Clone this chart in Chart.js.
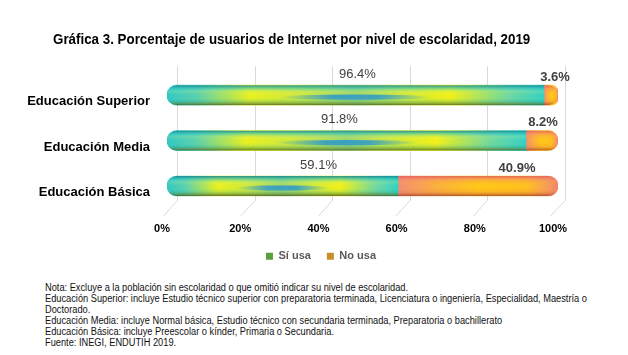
<!DOCTYPE html>
<html>
<head>
<meta charset="utf-8">
<script src="https://cdn.jsdelivr.net/npm/chart.js@4/dist/chart.umd.min.js"></script>
<style>
  html, body { margin: 0; padding: 0; background: #fff; }
  #wrap { position: relative; width: 628px; height: 355px; overflow: hidden; background: #fff; }
  #c { position: absolute; left: 0; top: 0; }
  #title { position: absolute; left: 53px; top: 31px; font: bold 14px "Liberation Sans Narrow", "Arial Narrow", "Liberation Sans", Arial, sans-serif; line-height: 17px; color: #000; white-space: nowrap; transform: scaleX(0.954); transform-origin: 0 0; }
  #note { position: absolute; left: 45px; top: 0; width: 700px; font: 10px "Liberation Sans Narrow", "Arial Narrow", "Liberation Sans", Arial, sans-serif; color: #111; white-space: nowrap; transform: scaleX(0.925); transform-origin: 0 0; }
  #note div { position: absolute; left: 0; line-height: 11px; }
</style>
</head>
<body>
<div id="wrap">
  <canvas id="c" width="628" height="275"></canvas>
  <div id="title">Gráfica 3. Porcentaje de usuarios de Internet por nivel de escolaridad, 2019</div>
  <div id="note">
    <div style="top:282px">Nota: Excluye a la población sin escolaridad o que omitió indicar su nivel de escolaridad.</div>
    <div style="top:293px">Educación Superior: incluye Estudio técnico superior con preparatoria terminada, Licenciatura o ingeniería, Especialidad, Maestría o</div>
    <div style="top:304px">Doctorado.</div>
    <div style="top:315px">Educación Media: incluye Normal básica, Estudio técnico con secundaria terminada, Preparatoria o bachillerato</div>
    <div style="top:326px">Educación Básica: incluye Preescolar o kínder, Primaria o Secundaria.</div>
    <div style="top:337px">Fuente: INEGI, ENDUTIH 2019.</div>
  </div>
</div>
<script>
// ---- data ----
const categories = ['Educación Superior', 'Educación Media', 'Educación Básica'];
const seriesNames = ['Sí usa', 'No usa'];
const siUsa = [96.4, 91.8, 59.1];
const noUsa = [3.6, 8.2, 40.9];
const xTicks = [0, 20, 40, 60, 80, 100];

// ---- styles ----
const FONT = '"Liberation Sans", Arial, sans-serif';
const styles = [
  {
    solid: '#5c9e3c',
    h: [[0,'#2ec8c8'],[0.08,'#58d0b0'],[0.22,'#e8f020'],[0.35,'#cce840'],[0.5,'#98d470'],[0.62,'#cce840'],[0.75,'#f0f018'],[0.9,'#70d8a0'],[1,'#30d0c8']],
    v: [[0,'rgba(20,130,140,0.9)'],[0.18,'rgba(50,200,200,0.5)'],[0.4,'rgba(255,255,120,0.08)'],[0.55,'rgba(255,255,0,0)'],[0.75,'rgba(40,170,160,0.15)'],[0.9,'rgba(90,130,50,0.55)'],[1,'rgba(70,85,35,0.85)']],
    streak: true,
    radius: {topLeft: 10, bottomLeft: 10, topRight: 0, bottomRight: 0}
  },
  {
    solid: '#c98e2c',
    h: [[0,'#f28a7a'],[0.25,'#fbb040'],[0.5,'#ffc818'],[0.8,'#ffc020'],[0.94,'#f59a60'],[1,'#ee8074']],
    v: [[0,'rgba(225,90,90,0.85)'],[0.2,'rgba(245,140,110,0.45)'],[0.5,'rgba(255,200,0,0)'],[0.8,'rgba(230,120,60,0.25)'],[1,'rgba(150,60,40,0.8)']],
    streak: false,
    radius: {topLeft: 0, bottomLeft: 0, topRight: 10, bottomRight: 10}
  }
];

function segFill(ctx) {
  const st = styles[ctx.datasetIndex];
  const chart = ctx.chart;
  const xs = chart.scales && chart.scales.x;
  if (ctx.type !== 'data' || !xs) return st.solid;
  const i = ctx.dataIndex;
  let start = 0;
  for (let k = 0; k < ctx.datasetIndex; k++) start += chart.data.datasets[k].data[i];
  const end = start + chart.data.datasets[ctx.datasetIndex].data[i];
  const x0 = xs.getPixelForValue(start), x1 = xs.getPixelForValue(end);
  if (!isFinite(x0) || !isFinite(x1) || x1 === x0) return st.solid;
  const g = chart.ctx.createLinearGradient(x0, 0, x1, 0);
  st.h.forEach(([o, c]) => g.addColorStop(o, c));
  return g;
}

const backWall = {
  id: 'backWall',
  beforeDatasetsDraw(chart) {
    const {ctx, chartArea: a, scales: {x}} = chart;
    ctx.save();
    ctx.strokeStyle = '#d9d9d9';
    ctx.lineWidth = 1;
    xTicks.forEach(v => {
      const px = x.getPixelForValue(v);
      const back = Math.round(px + 10 - v * 0.03) + 0.5;
      const front = Math.round(px - 4 - v * 0.04) + 0.5;
      ctx.beginPath();
      ctx.moveTo(back, a.top - 6.5);
      ctx.lineTo(back, a.bottom - 8.5);
      ctx.lineTo(front, a.bottom + 7.5);
      ctx.stroke();
    });
    ctx.restore();
  }
};

const cylinder = {
  id: 'cylinder',
  afterDatasetsDraw(chart) {
    const ctx = chart.ctx;
    chart.data.datasets.forEach((ds, di) => {
      const st = styles[di];
      chart.getDatasetMeta(di).data.forEach(el => {
        const {x, y, base, height} = el.getProps(['x', 'y', 'base', 'height'], true);
        const left = Math.min(x, base), w = Math.abs(x - base), top = y - height / 2;
        if (w <= 0) return;
        const r = st.radius;
        ctx.save();
        ctx.beginPath();
        ctx.roundRect(left, top, w, height, [r.topLeft, r.topRight, r.bottomRight, r.bottomLeft]);
        ctx.clip();
        if (st.streak) {
          const sg = ctx.createLinearGradient(left, 0, left + w, 0);
          sg.addColorStop(0.3, 'rgba(40,150,210,0)');
          sg.addColorStop(0.44, 'rgba(40,150,210,0.85)');
          sg.addColorStop(0.56, 'rgba(40,150,210,0.85)');
          sg.addColorStop(0.7, 'rgba(40,150,210,0)');
          ctx.beginPath();
          ctx.ellipse(left + w * 0.5, top + height * 0.6, w * 0.2, height * 0.13, 0, 0, Math.PI * 2);
          ctx.fillStyle = sg;
          ctx.fill();
        }
        const g = ctx.createLinearGradient(0, top, 0, top + height);
        st.v.forEach(([o, c]) => g.addColorStop(o, c));
        ctx.fillStyle = g;
        ctx.fillRect(left, top, w, height);
        ctx.restore();
      });
    });
  }
};

const valueLabels = {
  id: 'valueLabels',
  afterDatasetsDraw(chart, args, opts) {
    const ctx = chart.ctx;
    chart.data.datasets.forEach((ds, di) => {
      chart.getDatasetMeta(di).data.forEach((el, i) => {
        const {x, y, base, height} = el.getProps(['x', 'y', 'base', 'height'], true);
        const cx = (x + base) / 2 + opts.shift[di][i];
        const cy = y - height / 2 - opts.rise[di];
        ctx.save();
        ctx.font = (di === 1 ? 'bold ' : '') + '13px ' + FONT;
        ctx.fillStyle = '#404040';
        ctx.textAlign = 'center';
        ctx.textBaseline = 'middle';
        ctx.fillText(ds.data[i].toFixed(1) + '%', cx, cy);
        ctx.restore();
      });
    });
  }
};

new Chart(document.getElementById('c'), {
  type: 'bar',
  data: {
    labels: categories,
    datasets: [
      { label: seriesNames[0], data: siUsa, backgroundColor: segFill, borderWidth: 0, borderSkipped: false, borderRadius: styles[0].radius, barThickness: 20 },
      { label: seriesNames[1], data: noUsa, backgroundColor: segFill, borderWidth: 0, borderSkipped: false, borderRadius: styles[1].radius, barThickness: 20 }
    ]
  },
  options: {
    indexAxis: 'y',
    responsive: false,
    animation: false,
    devicePixelRatio: 1,
    layout: { padding: { left: 84, right: 70, top: 72.5, bottom: 3.3 } },
    scales: {
      x: {
        stacked: true, min: 0, max: 100,
        afterBuildTicks(scale) { scale.ticks = xTicks.map(v => ({ value: v })); },
        afterFit(scale) { scale.height = 26; },
        grid: { display: false, drawTicks: false },
        border: { display: false },
        ticks: {
          callback: v => v + '%', padding: 14, labelOffset: -5, maxRotation: 0,
          color: '#000', font: { family: FONT, size: 11, weight: 'bold' }
        }
      },
      y: {
        stacked: true,
        afterFit(scale) { scale.width = 83; scale._computeLabelArea = () => undefined; },
        grid: { display: false, drawTicks: false },
        border: { display: false },
        ticks: { padding: 17, labelOffset: 6.5, color: '#000', font: { family: FONT, size: 13, weight: 'bold' } }
      }
    },
    plugins: {
      legend: {
        position: 'bottom',
        labels: {
          boxWidth: 7, boxHeight: 7, padding: 16, color: '#595959',
          font: { family: FONT, size: 11, weight: 'bold' },
          generateLabels(chart) {
            return chart.data.datasets.map((ds, i) => ({
              text: ds.label, fillStyle: styles[i].solid, strokeStyle: styles[i].solid,
              lineWidth: 0, hidden: false, datasetIndex: i, fontColor: '#595959'
            }));
          }
        }
      },
      tooltip: { enabled: false },
      valueLabels: { shift: [[2, -7, 36], [4, 1, 39]], rise: [11, 8] }
    }
  },
  plugins: [backWall, cylinder, valueLabels]
});
</script>
</body>
</html>
